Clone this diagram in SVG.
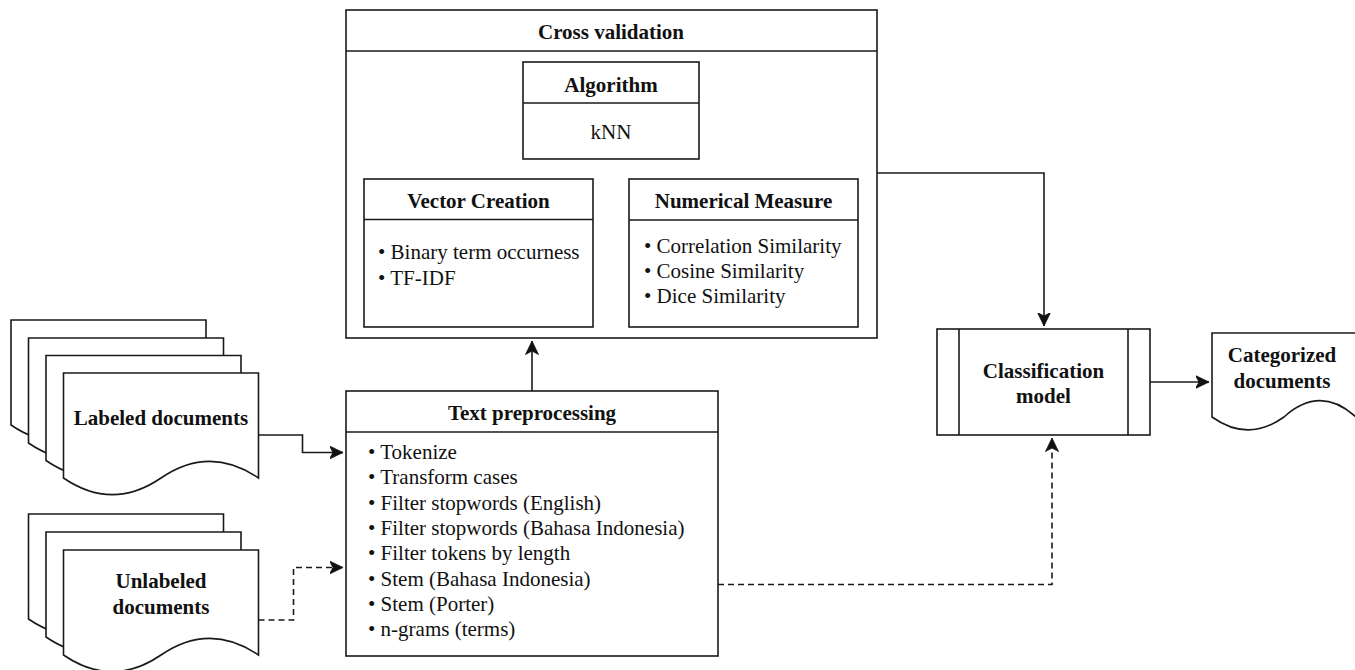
<svg xmlns="http://www.w3.org/2000/svg" width="1355" height="670" viewBox="0 0 1355 670">
<defs>
<style>
.box{fill:#fff;stroke:#1a1a1a;stroke-width:1.6}
.ln{fill:none;stroke:#1a1a1a;stroke-width:1.6}
.dash{fill:none;stroke:#1a1a1a;stroke-width:1.6;stroke-dasharray:6 4}
.t{font-family:"Liberation Serif","Times New Roman",serif;font-size:21px;fill:#111}
.b{font-weight:bold;text-anchor:middle}
.c{text-anchor:middle}
</style>
<marker id="arr" markerUnits="userSpaceOnUse" markerWidth="16" markerHeight="14" refX="13.5" refY="7" orient="auto">
<path d="M0,0.5 L13.5,7 L0,13.5 L3.5,7 Z" fill="#111" stroke="#111" stroke-width="0.8" stroke-linejoin="miter"/>
</marker>
<path id="doc" d="M0,0 H195 V105 Q146.25,71.7 97.5,105 Q48.75,138.3 0,105 Z"/>
</defs>

<g id="cross-validation">
<rect class="box" x="346" y="10" width="531" height="328"/>
<line class="ln" x1="346" y1="51" x2="877" y2="51"/>
<text class="t b" x="611" y="38.5">Cross validation</text>
</g>

<g id="algorithm">
<rect class="box" x="523" y="62" width="176" height="97"/>
<line class="ln" x1="523" y1="103" x2="699" y2="103"/>
<text class="t b" x="611" y="92">Algorithm</text>
<text class="t c" x="611" y="139">kNN</text>
</g>

<g id="vector-creation">
<rect class="box" x="364" y="179" width="229" height="148"/>
<line class="ln" x1="364" y1="219.5" x2="593" y2="219.5"/>
<text class="t b" x="478.5" y="208">Vector Creation</text>
<text class="t" x="378" y="259">• Binary term occurness</text>
<text class="t" x="378" y="285">• TF-IDF</text>
</g>

<g id="numerical-measure">
<rect class="box" x="629" y="179" width="229" height="148"/>
<line class="ln" x1="629" y1="220" x2="858" y2="220"/>
<text class="t b" x="743.5" y="208">Numerical Measure</text>
<text class="t" x="644" y="253">• Correlation Similarity</text>
<text class="t" x="644" y="278">• Cosine Similarity</text>
<text class="t" x="644" y="303">• Dice Similarity</text>
</g>

<g id="text-preprocessing">
<rect class="box" x="346" y="391" width="372" height="265"/>
<line class="ln" x1="346" y1="432" x2="718" y2="432"/>
<text class="t b" x="532" y="420">Text preprocessing</text>
<text class="t" x="368" y="459">• Tokenize</text>
<text class="t" x="368" y="484.3">• Transform cases</text>
<text class="t" x="368" y="509.6">• Filter stopwords (English)</text>
<text class="t" x="368" y="534.9">• Filter stopwords (Bahasa Indonesia)</text>
<text class="t" x="368" y="560.2">• Filter tokens by length</text>
<text class="t" x="368" y="585.5">• Stem (Bahasa Indonesia)</text>
<text class="t" x="368" y="610.8">• Stem (Porter)</text>
<text class="t" x="368" y="636.1">• n-grams (terms)</text>
</g>

<g id="labeled-documents">
<use href="#doc" class="box" x="11" y="320"/>
<use href="#doc" class="box" x="28.5" y="338"/>
<use href="#doc" class="box" x="46" y="355.5"/>
<use href="#doc" class="box" x="63.5" y="373"/>
<text class="t b" x="161" y="425">Labeled documents</text>
</g>

<g id="unlabeled-documents">
<use href="#doc" class="box" x="28.5" y="514"/>
<use href="#doc" class="box" x="46" y="532"/>
<use href="#doc" class="box" x="63.5" y="550"/>
<text class="t b" x="161" y="588">Unlabeled</text>
<text class="t b" x="161" y="614">documents</text>
</g>

<g id="classification-model">
<rect class="box" x="937" y="329" width="213" height="106"/>
<line class="ln" x1="959" y1="329" x2="959" y2="435"/>
<line class="ln" x1="1128" y1="329" x2="1128" y2="435"/>
<text class="t b" x="1043.5" y="377.7">Classification</text>
<text class="t b" x="1043.5" y="402.7">model</text>
</g>

<g id="categorized-documents">
<path class="box" d="M1212,333 H1356 V417 Q1320,384.4 1284,417 Q1248,442.7 1212,417 Z"/>
<text class="t b" x="1282" y="362.3">Categorized</text>
<text class="t b" x="1282" y="388.3">documents</text>
</g>

<g id="connectors">
<path class="ln" d="M877,173 H1044 V326" marker-end="url(#arr)"/>
<path class="ln" d="M532,391 V341" marker-end="url(#arr)"/>
<path class="ln" d="M258.5,435 H302.5 V452.5 H343" marker-end="url(#arr)"/>
<path class="dash" d="M258.5,620 H293.5 V567.5 H343" marker-end="url(#arr)"/>
<path class="dash" d="M718,584.5 H1052 V438" marker-end="url(#arr)"/>
<path class="ln" d="M1150,382 H1209" marker-end="url(#arr)"/>
</g>
</svg>
